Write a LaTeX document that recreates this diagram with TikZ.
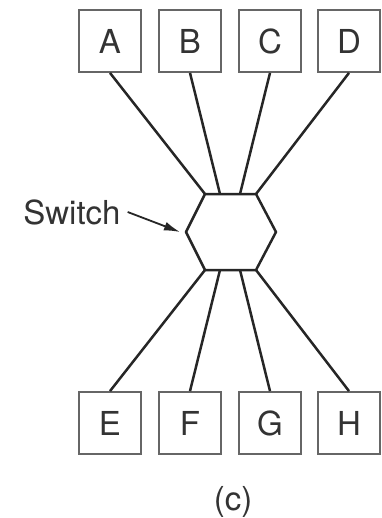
\documentclass[tikz,border=0pt]{standalone}
\usepackage{fontspec}
\setmainfont{TeX Gyre Heros}
\usepackage{tikz}
\usetikzlibrary{arrows.meta}

\begin{document}
\begin{tikzpicture}[x=0.5pt,y=-0.5pt,
    every node/.style={font=\fontsize{16.5}{19}\selectfont,text=black!80},
    host/.style={draw=black!60,line width=0.9pt,minimum size=31pt,inner sep=0},
    wire/.style={line width=1.25pt,black!85}]
        \useasboundingbox (0,0) rectangle (381,518);
        \node[host] (a) at (110,41) {A};
        \node[host] (b) at (190,41) {B};
        \node[host] (c) at (270,41) {C};
        \node[host] (d) at (349,41) {D};
        \node[host] (e) at (110,423) {E};
        \node[host] (f) at (190,423) {F};
        \node[host] (g) at (270,423) {G};
        \node[host] (h) at (349,423) {H};
        % the switch
        \coordinate (l) at (186,232);
        \coordinate (tl) at (205,194);
        \coordinate (tr) at (256,194);
        \coordinate (r) at (276,232);
        \coordinate (br) at (256,270);
        \coordinate (bl) at (205,270);
        \coordinate (t1) at (220,194);
        \coordinate (t2) at (240,194);
        \coordinate (b1) at (220,270);
        \coordinate (b2) at (240,270);
        \draw[wire,line join=round] (l) -- (tl) -- (tr) -- (r) -- (br) -- (bl) -- cycle;
        \draw[wire] (a.south) -- (tl) (b.south) -- (t1) (c.south) -- (t2) (d.south) -- (tr);
        \draw[wire] (e.north) -- (bl) (f.north) -- (b1) (g.north) -- (b2) (h.north) -- (br);
        \node (sw) at (72,212) {Switch};
        \coordinate (tip) at (180,232);
        \draw[line width=0.9pt,black!85,-{Latex[length=8pt,width=4.5pt]}] (sw.east) -- (tip);
        \node (cap) at (233,502) {(c)};
      \end{tikzpicture}
\end{document}
